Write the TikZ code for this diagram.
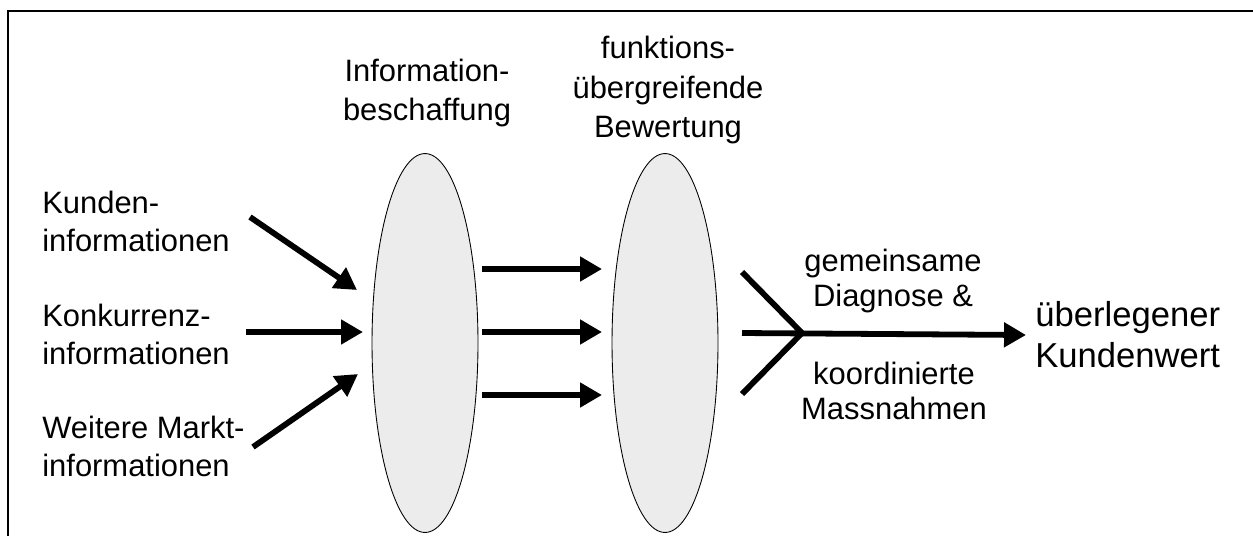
\documentclass[tikz,border=0pt]{standalone}
\usepackage{fontspec}
\setmainfont{Liberation Sans}
\usetikzlibrary{arrows.meta,shapes.geometric}

\begin{document}
\begin{tikzpicture}[x=0.02cm, y=-0.02cm,
	every node/.style={font={\fontsize{17.6}{21.6}\selectfont}, inner sep=0pt},
	lens/.style={draw, ellipse, fill=gray!15, line width=0.5pt, minimum width=2.12cm, minimum height=7.58cm},
	flow/.style={line width=3.3pt, -{Triangle[length=12.5pt, width=13.5pt]}},
	fork/.style={line width=3.3pt}]
	\useasboundingbox (0,0) rectangle (1253,535);
	\draw[line width=1pt] (8,540) -- (8,11) -- (1260,11);
	% lenses
	\node[lens] (lensA) at (425,343) {};
	\node[lens] (lensB) at (665,343) {};
	% labels
	\node[align=left, anchor=west] (kunden) at (42,221) {Kunden-\\informationen};
	\node[align=left, anchor=west] (konkurrenz) at (42,334) {Konkurrenz-\\informationen};
	\node[align=left, anchor=west] (markt) at (42,446) {Weitere Markt-\\informationen};
	\node[align=center, font={\fontsize{17.6}{22.4}\selectfont}] (beschaffung) at (427,93) {Information-\\beschaffung};
	\node[align=center, font={\fontsize{17.6}{22.4}\selectfont}] (bewertung) at (668,90) {funktions-\\übergreifende\\Bewertung};
	\node[align=center, font={\fontsize{17.6}{19.5}\selectfont}] (diagnose) at (893,281) {gemeinsame\\Diagnose \&};
	\node[align=center, font={\fontsize{17.6}{19.5}\selectfont}] (massnahmen) at (894,391) {koordinierte\\Massnahmen};
	\node[align=left, anchor=west, font={\fontsize{19.7}{23.3}\selectfont}] (kundenwert) at (1035,335) {überlegener\\Kundenwert};
	% inputs
	\coordinate (inA) at (250,217);
	\coordinate (inB) at (246,332);
	\coordinate (inC) at (253,447);
	\coordinate (tipA) at (357,290);
	\coordinate (tipB) at (363,332);
	\coordinate (tipC) at (358,374);
	\draw[flow] (inA) -- (tipA);
	\draw[flow] (inB) -- (tipB);
	\draw[flow] (inC) -- (tipC);
	% transfer
	\foreach \y [count=\i] in {269,332,395} {
		\coordinate (outA\i) at (482,\y);
		\coordinate (inB\i) at (602,\y);
		\draw[flow] (outA\i) -- (inB\i);
	}
	% fork
	\coordinate (forkU) at (742,272);
	\coordinate (forkL) at (742,394);
	\coordinate (forkS) at (742,333);
	\coordinate (forkJ) at (802,333);
	\draw[fork] (forkU) -- (forkJ) -- (forkL);
	\draw[flow] (forkS) -- (kundenwert.west -| 1026,333);
\end{tikzpicture}
\end{document}
